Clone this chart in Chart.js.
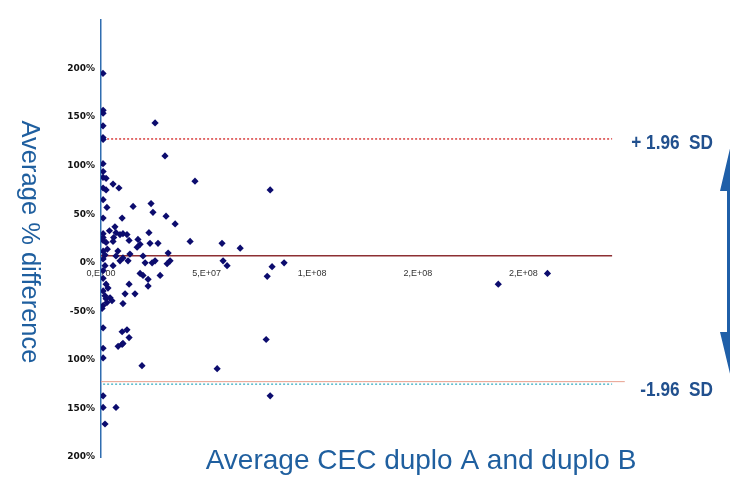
<!DOCTYPE html>
<html><head><meta charset="utf-8">
<script src="https://cdn.jsdelivr.net/npm/chart.js@4"></script>
<style>html,body{margin:0;padding:0;background:#fff}#wrap{width:730px;height:482px;position:relative}</style>
</head><body><div id="wrap"><canvas id="c" width="730" height="482"></canvas></div>
<script>
// Average CEC of duplo A and B (x) and average % difference (y)
const cecValues = [
  0.95e6,1.0e6,1.0e6,0.95e6,0.95e6,1.0e6,25.6e6,30.3e6,44.5e6,0.95e6,
  1.0e6,0.95e6,2.4e6,1.0e6,2.4e6,5.7e6,8.5e6,1.0e6,2.8e6,15.2e6,
  23.7e6,24.6e6,1.0e6,10.0e6,30.8e6,35.1e6,6.6e6,7.1e6,9.0e6,10.4e6,
  12.3e6,22.7e6,1.0e6,1.0e6,1.0e6,2.4e6,5.7e6,13.3e6,17.5e6,18.5e6,
  17.1e6,23.2e6,27.0e6,42.2e6,57.3e6,65.9e6,31.8e6,1.9e6,7.1e6,10.4e6,
  13.7e6,12.8e6,19.9e6,20.9e6,24.2e6,25.6e6,31.3e6,32.7e6,9.0e6,1.9e6,
  5.7e6,57.8e6,59.7e6,81.0e6,86.7e6,78.7e6,80.1e6,18.5e6,19.9e6,22.3e6,
  28.0e6,13.3e6,22.3e6,11.4e6,16.1e6,3.3e6,1.9e6,4.3e6,5.2e6,2.8e6,
  1.0e6,0.5e6,10.4e6,1.0e6,10.0e6,12.3e6,13.3e6,8.1e6,10.0e6,10.4e6,
  1.0e6,1.0e6,19.4e6,55.0e6,78.2e6,80.1e6,1.0e6,1.0e6,7.1e6,1.9e6,
  188.1e6,211.4e6,1.0e6,1.0e6,1.0e6,1.0e6,2.4e6,1.0e6,2.4e6,
  4.0e6,6.0e6,3.0e6,8.0e6
];
const pctDifference = [
  195,157,154,141,129,127,144,110,84,102,
  94,88,87,77,75,81,77,65,57,58,
  61,52,46,46,48,40,37,31,29,30,
  29,31,30,26,23,21,22,23,24,19,
  16,20,20,22,20,15,10,8,7,5,
  9,2,7,0,0,2,-1,2,2,-3,
  -3,2,-3,-4,0,-14,75,-11,-13,-17,
  -13,-22,-24,-32,-32,-26,-34,-36,-39,-41,
  -44,-47,-42,-67,-71,-69,-77,-86,-84,-83,
  -88,-98,-106,-109,-79,-137,-137,-149,-149,-166,
  -22,-11,12,4,-8,-16,-22,-29,-37,
  33,26,14,12
];
const meanDiff = 7.2;
const upperLimit = 127.5;
const lowerLimit = -122.4;
const lowerLimitDotted = -125;
const limitLineEnd = 2.42e8;
const lowerLineEnd = 2.48e8;

const yTickValues = [200,150,100,50,0,-50,-100,-150,-200];
const yTickLabels = ["200%","150%","100%","50%","0%","-50%","100%","150%","200%"];
const xTickValues = [0,5e7,1e8,1.5e8,2e8];
const xTickLabels = ["0,E+00","5,E+07","1,E+08","2,E+08","2,E+08"];

const yTitle = "Average % difference";
const xTitle = "Average CEC duplo A and duplo B";
const upperLabel = "+ 1.96  SD";
const lowerLabel = "-1.96  SD";

const points = cecValues.map((x,i)=>({x:x,y:pctDifference[i]}));
const hLine = (y,x0,x1)=>[{x:x0,y:y},{x:x1,y:y}];

function narrowText(ctx, text, right, y, sx){
  ctx.save();
  ctx.translate(right, y);
  ctx.scale(sx, 1);
  ctx.textAlign = 'right';
  ctx.fillText(text, 0, 0);
  ctx.restore();
}

const decor = {
  id:'decor',
  afterDraw(chart){
    const ctx = chart.ctx;
    ctx.save();
    ctx.fillStyle = '#1f5f9f';
    ctx.font = '25.5px "Liberation Sans", Arial, sans-serif';
    ctx.textAlign = 'center'; ctx.textBaseline = 'middle';
    ctx.translate(29, 242); ctx.rotate(Math.PI/2);
    ctx.fillText(yTitle, 0, 0);
    ctx.restore();
    ctx.save();
    ctx.fillStyle = '#1f5f9f';
    ctx.font = '28px "Liberation Sans", Arial, sans-serif';
    ctx.textAlign = 'center'; ctx.textBaseline = 'middle';
    ctx.fillText(xTitle, 421, 461);
    // SD labels
    ctx.fillStyle = '#21508e';
    ctx.textBaseline = 'middle';
    ctx.font = 'bold 20px "Liberation Sans", Arial, sans-serif';
    narrowText(ctx, upperLabel, 713, 143, 0.86);
    narrowText(ctx, lowerLabel, 713, 390, 0.86);
    // double headed arrow (cut at right edge)
    ctx.fillStyle = '#1f5fa8';
    ctx.beginPath();
    ctx.moveTo(732, 140);
    ctx.lineTo(740, 140);
    ctx.lineTo(740, 382);
    ctx.lineTo(732, 382);
    ctx.lineTo(720, 332);
    ctx.lineTo(727, 332);
    ctx.lineTo(727, 191);
    ctx.lineTo(720, 191);
    ctx.closePath();
    ctx.fill();
    ctx.restore();
  }
};

new Chart(document.getElementById('c'), {
  type:'scatter',
  data:{datasets:[
    {data:points, pointStyle:'rectRot', pointRadius:3.6, backgroundColor:'#0c0c6e', borderColor:'#0c0c6e', borderWidth:0, order:0},
    {data:hLine(upperLimit,1e6,limitLineEnd), showLine:true, borderColor:'#d21f1f', borderWidth:1.3, borderDash:[2,2], pointRadius:0, order:1},
    {data:hLine(meanDiff,0,limitLineEnd), showLine:true, borderColor:'#8d2f33', borderWidth:1.4, pointRadius:0, order:1},
    {data:hLine(lowerLimit,0,lowerLineEnd), showLine:true, borderColor:'#e8a08e', borderWidth:1, pointRadius:0, order:1},
    {data:hLine(lowerLimitDotted,1e6,limitLineEnd), showLine:true, borderColor:'#3fb0c4', borderWidth:1.3, borderDash:[2,2], pointRadius:0, order:1}
  ]},
  options:{
    responsive:false, animation:false, devicePixelRatio:1,
    layout:{padding:{left:0, top:20, right:101, bottom:25}},
    plugins:{legend:{display:false}, tooltip:{enabled:false}},
    scales:{
      x:{type:'linear', min:0, max:2.5e8, position:{y:0},
        grid:{display:false, drawTicks:false}, border:{display:false},
        afterBuildTicks:s=>{s.ticks = xTickValues.map(v=>({value:v}));},
        ticks:{autoSkip:false, maxRotation:0, padding:5, color:'#333',
          font:{family:'"Liberation Sans", Arial, sans-serif', size:9},
          callback:v=>{const i=xTickValues.indexOf(v); return i<0?'':xTickLabels[i];}}},
      y:{type:'linear', min:-200, max:250,
        afterFit:s=>{s.width = 101;},
        grid:{display:false, drawTicks:false}, border:{display:true, color:'#2f6db0', width:1.5},
        afterBuildTicks:s=>{s.ticks = yTickValues.map(v=>({value:v}));},
        ticks:{autoSkip:false, padding:6, color:'#111',
          font:{family:'"DejaVu Sans", sans-serif', size:9, weight:'bold'},
          callback:v=>{const i=yTickValues.indexOf(v); return i<0?'':yTickLabels[i];}}}
    }
  },
  plugins:[decor]
});
</script></body></html>
